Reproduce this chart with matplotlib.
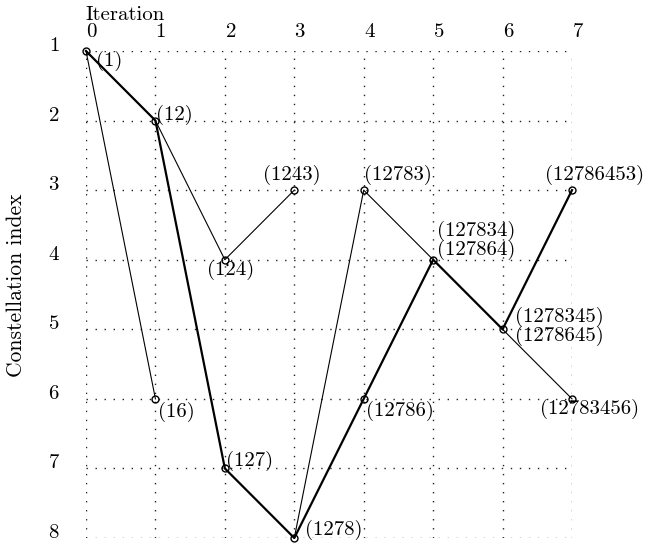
"""Constellation index search tree over iterations."""

import matplotlib
matplotlib.use("Agg")
import matplotlib.pyplot as plt

plt.rcParams["font.family"] = ["cmr10", "DejaVu Serif"]
plt.rcParams["mathtext.fontset"] = "cm"
plt.rcParams["axes.formatter.use_mathtext"] = True

FS = 15

# nodes: iteration, constellation index, label
node_x = [0, 1, 1, 2, 2, 3, 3, 4, 4, 5, 6, 7, 7]
node_y = [1, 2, 6, 4, 7, 3, 8, 3, 6, 4, 5, 3, 6]
node_labels = ["(1)", "(12)", "(16)", "(124)", "(127)", "(1243)", "(1278)",
               "(12783)", "(12786)", "(127834)\n(127864)",
               "(1278345)\n(1278645)", "(12786453)", "(12783456)"]

# thick path (chosen path)
best_x = [0, 1, 2, 3, 4, 5, 6, 7]
best_y = [1, 2, 7, 8, 6, 4, 5, 3]

# thin branches
thin_edges = [
    ([0, 1], [1, 6]),
    ([1, 2, 3], [2, 4, 3]),
    ([3, 4, 5], [8, 3, 4]),
    ([6, 7], [5, 6]),
]

# label placement: (dx, dy) in points, ha, va
label_style = [
    ((7, 0), "left", "top"),
    ((0.5, 4), "left", "center"),
    ((2, -2), "left", "top"),
    ((4, 0), "center", "top"),
    ((0.5, -1.5), "left", "bottom"),
    ((-2, 4), "center", "bottom"),
    ((8, -1.5), "left", "bottom"),
    ((0, 4), "left", "bottom"),
    ((1.5, -1.5), "left", "top"),
    ((3, -0.5), "left", "bottom"),
    ((9, 2), "left", "center"),
    ((16, 4), "center", "bottom"),
    ((13, 0), "center", "top"),
]

fig = plt.figure(figsize=(6.45, 5.46), dpi=100)
ax = fig.add_axes([86 / 645, 1 - 538 / 546, (572 - 86) / 645, (538 - 51) / 546])

for xs, ys in thin_edges:
    ax.plot(xs, ys, color="black", lw=0.8, clip_on=False, zorder=3)
ax.plot(best_x, best_y, color="black", lw=1.6, clip_on=False, zorder=4)
ax.plot(node_x, node_y, "o", ms=5, mfc="none", mec="black", mew=1.0,
        clip_on=False, zorder=5)

for x, y, text, (off, ha, va) in zip(node_x, node_y, node_labels, label_style):
    ax.annotate(text, (x, y), xytext=off, textcoords="offset points",
                ha=ha, va=va, fontsize=FS, linespacing=0.95)

ax.set_xlim(0, 7)
ax.set_ylim(8, 1)
ax.set_xticks(range(8))
ax.set_yticks(range(1, 9))
ax.xaxis.tick_top()
ax.tick_params(axis="both", length=0, labelsize=FS)
ax.tick_params(axis="x", pad=7.5)
ax.tick_params(axis="y", pad=19)
for lbl in ax.get_xticklabels():
    lbl.set_horizontalalignment("left")
for lbl in ax.get_yticklabels():
    lbl.set_verticalalignment("baseline")
for s in ax.spines.values():
    s.set_visible(False)
ax.grid(True, color="#222222", ls=(0, (1, 5.5)), lw=1.0)
ax.set_axisbelow(True)

ax.xaxis.set_label_position("top")
ax.set_xlabel("Iteration", fontsize=FS, ha="left")
ax.xaxis.set_label_coords(0, 1 + 31 / 487)
ax.set_ylabel("Constellation index", fontsize=15.5)
ax.yaxis.set_label_coords(-0.124, 0.52)

fig.savefig("out.png", dpi=100)
